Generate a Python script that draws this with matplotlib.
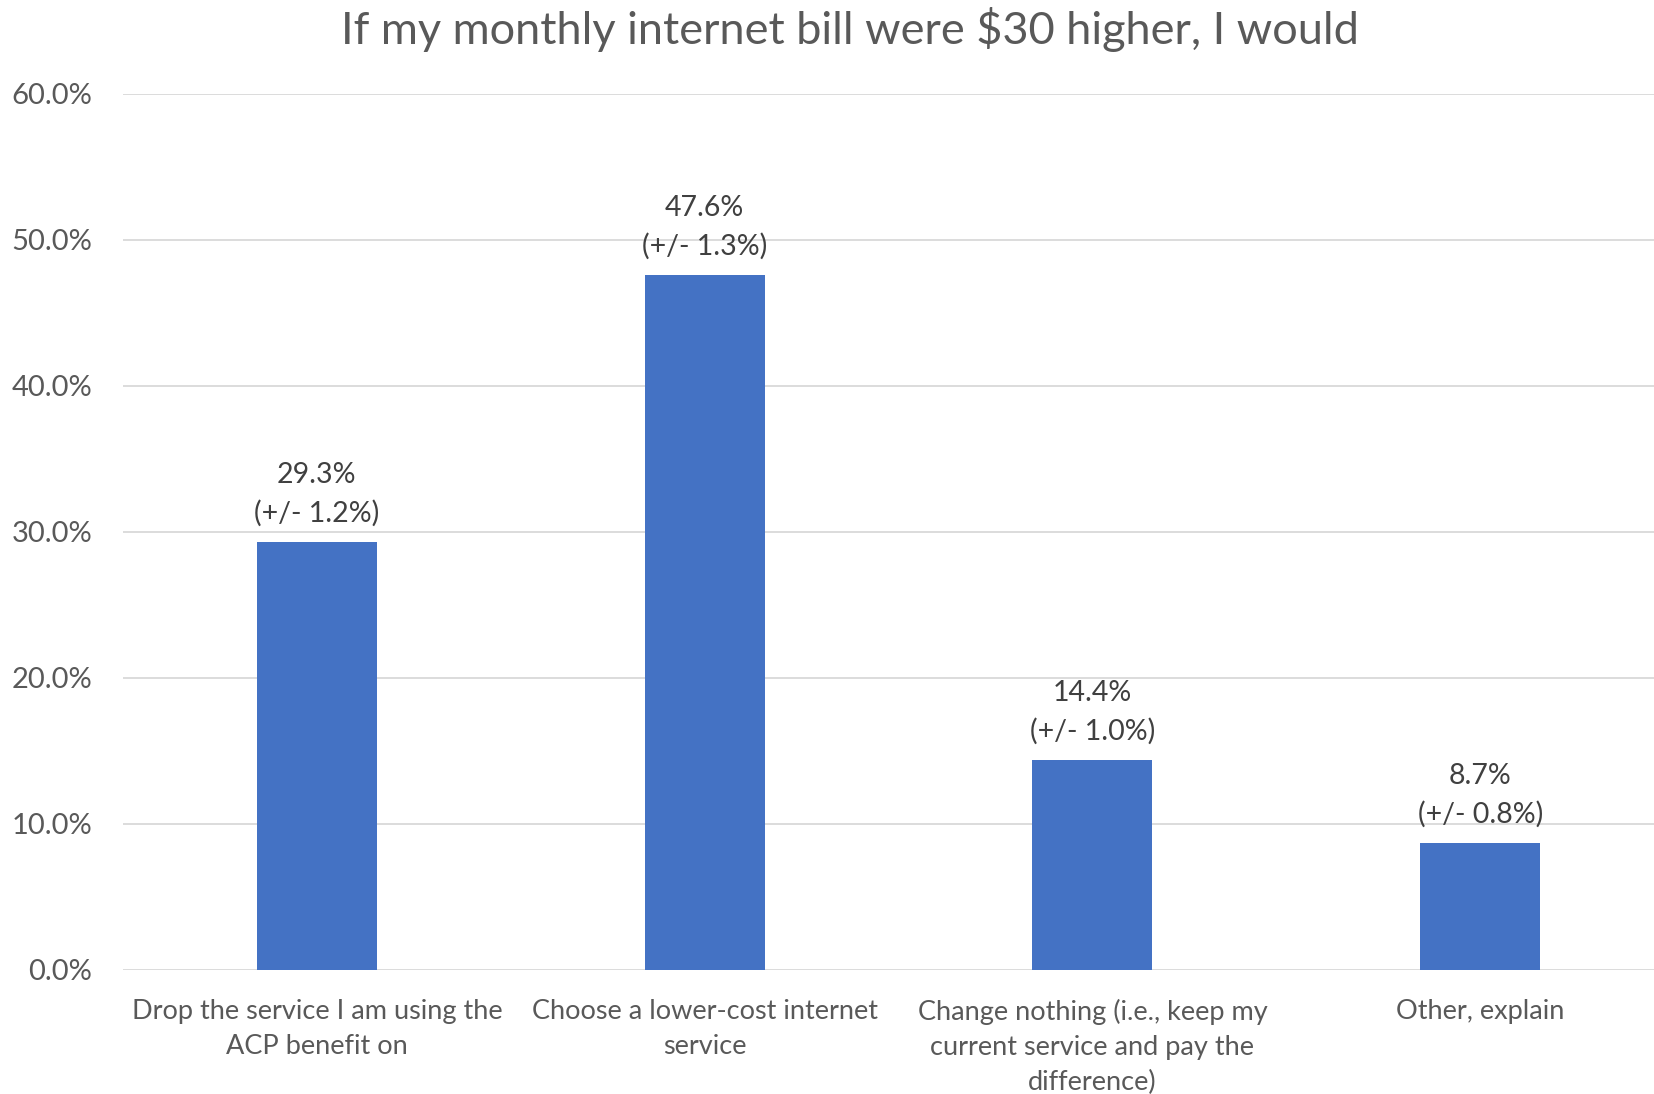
import matplotlib.pyplot as plt
from matplotlib.ticker import PercentFormatter

# Data
categories = [
    "Drop the service I am using the\nACP benefit on",
    "Choose a lower-cost internet\nservice",
    "Change nothing (i.e., keep my\ncurrent service and pay the\ndifference)",
    "Other, explain",
]
values = [29.3, 47.6, 14.4, 8.7]
margins = [1.2, 1.3, 1.0, 0.8]
title = "If my monthly internet bill were $30 higher, I would"

plt.rcParams['font.family'] = ['Lato', 'DejaVu Sans']

fig = plt.figure(figsize=(16.54, 10.94), dpi=100)
ax = fig.add_axes([123 / 1654, 124 / 1094, 1551 / 1654, 876 / 1094])

x = range(len(values))
bars = ax.bar(x, values, width=0.31, color='#4472C4', zorder=3)

for xi, v, m in zip(x, values, margins):
    ax.annotate(f"{v:.1f}%\n(+/- {m:.1f}%)", (xi, v), xytext=(0, 11),
                textcoords='offset points', ha='center', va='bottom',
                fontsize=20.5, color='#404040', linespacing=1.55)

ax.set_xlim(-0.5, 3.5)
ax.set_ylim(0, 60)
ax.set_yticks(range(0, 61, 10))
ax.yaxis.set_major_formatter(PercentFormatter(decimals=1))
ax.set_xticks(list(x))
ax.set_xticklabels(categories, linespacing=1.5)
ax.tick_params(axis='both', length=0, colors='#595959')
ax.tick_params(axis='x', pad=21, labelsize=19.5)
ax.tick_params(axis='y', pad=22, labelsize=21)

ax.grid(axis='y', color='#D9D9D9', linewidth=1.3, zorder=0)
for s in ax.spines.values():
    s.set_visible(False)

fig.text(0.5137, 1 - 30 / 1094, title, ha='center', va='center',
         fontsize=32.5, color='#595959')

fig.savefig('out.png', dpi=100)
